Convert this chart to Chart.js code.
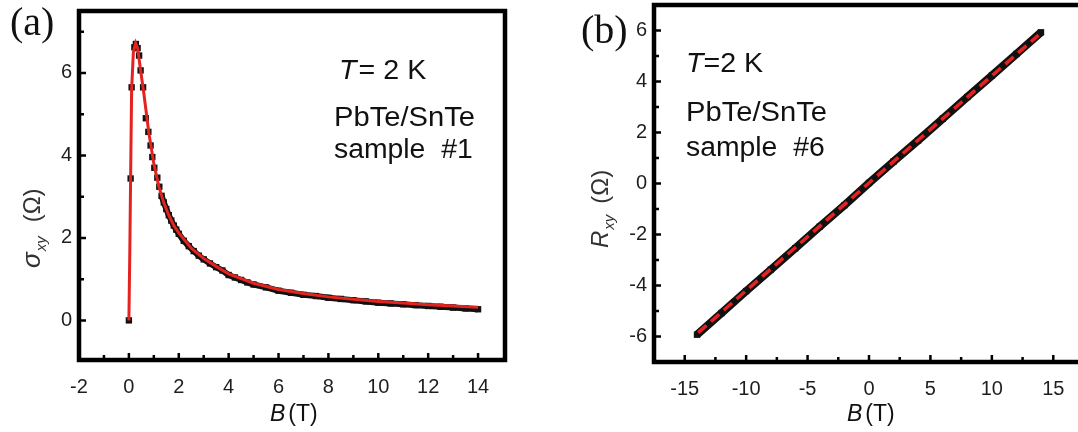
<!DOCTYPE html>
<html>
<head>
<meta charset="utf-8">
<script src="https://cdn.jsdelivr.net/npm/chart.js@4.4.1/dist/chart.umd.min.js"></script>
<style>
html, body { margin: 0; padding: 0; background: #fff; overflow: hidden; width: 1078px; height: 432px; }
canvas { position: absolute; top: 0; }
#chart-a { left: 0; }
#chart-b { left: 540px; }
</style>
</head>
<body>
<canvas id="chart-a" width="540" height="432"></canvas>
<canvas id="chart-b" width="560" height="432"></canvas>
<script>
/*
 * Panel (a): sample #1, Hall conductivity against field.  Black squares are
 * the measurement, the red line is the fit.
 */
const sampleOneB = [
	0, 0.07, 0.11, 0.22, 0.28, 0.35, 0.41, 0.47, 0.57, 0.68,
	0.78, 0.87, 0.94, 1.02, 1.14, 1.22, 1.31, 1.4, 1.5, 1.6,
	1.7, 1.8, 1.9, 2.0, 2.2, 2.4, 2.6, 2.8, 3.0, 3.25,
	3.5, 3.75, 4.0, 4.25, 4.5, 4.75, 5.0, 5.5, 6.0, 6.5,
	7.0, 7.5, 8.0, 8.5, 9.0, 9.5, 10.0, 10.5, 11.0, 11.5,
	12.0, 12.5, 13.0, 13.5, 14.0,
];
const sampleOneSigma = [
	0, 3.44, 5.65, 6.62, 6.7, 6.6, 6.42, 6.06, 5.65, 4.9,
	4.57, 4.24, 3.96, 3.7, 3.46, 3.24, 3.02, 2.86, 2.7, 2.55,
	2.42, 2.3, 2.2, 2.1, 1.93, 1.8, 1.68, 1.57, 1.48, 1.38,
	1.29, 1.21, 1.1, 1.04, 0.98, 0.92, 0.87, 0.8, 0.72, 0.67,
	0.62, 0.59, 0.55, 0.52, 0.49, 0.46, 0.43, 0.41, 0.39, 0.37,
	0.35, 0.33, 0.31, 0.29, 0.27,
];
const fitOneB = [
	0, 0.04, 0.07, 0.11, 0.18, 0.27, 0.35, 0.45, 0.6, 0.8,
	1.0, 1.2, 1.4, 1.6, 1.8, 2.0, 2.5, 3.0, 3.5, 4.0,
	5.0, 6.0, 7.0, 8.0, 9.0, 10.0, 11.0, 12.0, 13.0, 14.0,
];
const fitOneSigma = [
	0, 1.8, 3.5, 5.6, 6.5, 6.72, 6.6, 6.15, 5.5, 4.55,
	3.8, 3.25, 2.85, 2.55, 2.3, 2.12, 1.75, 1.5, 1.31, 1.13,
	0.9, 0.75, 0.65, 0.57, 0.51, 0.46, 0.42, 0.38, 0.35, 0.32,
];

/*
 * Panel (b): sample #6, Hall resistance against field.
 */
const sampleSixB = [
	-14, -12, -10, -8, -6, -4, -2, 0, 2, 4, 6, 8, 10, 12, 14,
];
const sampleSixR = [
	-5.93, -5.08, -4.22, -3.38, -2.54, -1.69, -0.85, 0.02,
	0.86, 1.69, 2.54, 3.39, 4.23, 5.08, 5.93,
];
const fitSixB = [-13.9, 0, 13.8];
const fitSixR = [-5.85, 0.02, 5.82];

/* Tick labels (major) and the unlabelled minor ticks. */

const xTicksA = [-2, 0, 2, 4, 6, 8, 10, 12, 14];
const xMinorA = [-1, 1, 3, 5, 7, 9, 11, 13];
const yTicksA = [0, 2, 4, 6];
const yMinorA = [1, 3, 5, 7];
const xTicksB = [-15, -10, -5, 0, 5, 10, 15];
const xMinorB = [-12.5, -7.5, -2.5, 2.5, 7.5, 12.5];
const yTicksB = [-6, -4, -2, 0, 2, 4, 6];
const yMinorB = [-5, -3, -1, 1, 3, 5];

const SANS = '"Liberation Sans", Arial, sans-serif';
const SERIF = '"Liberation Serif", "Times New Roman", serif';
const RED = '#e3231f';
const BLACK = '#111';

function points(xs, ys)
{
	return xs.map((x, i) => ({ x: x, y: ys[i] }));
}

/**
 * Draw a sequence of text runs (each with its own font and baseline shift)
 * starting at (x, y), optionally rotated to read bottom-to-top and
 * optionally stretched along the reading direction by "sx".
 */
function drawRuns(ctx, item)
{
	ctx.save();
	ctx.translate(item.x, item.y);
	if (item.rotate)
		ctx.rotate(-Math.PI / 2);
	if (item.sx)
		ctx.scale(item.sx, 1);
	ctx.fillStyle = item.color || '#111';
	ctx.textBaseline = 'alphabetic';
	ctx.textAlign = 'left';
	let x = 0;
	for (const run of item.runs) {
		ctx.font = run.f;
		ctx.fillText(run.t, x, run.dy || 0);
		x += ctx.measureText(run.t).width + (run.gap || 0);
	}
	ctx.restore();
}

/**
 * Frame, inward tick marks and free text of each panel.
 */
const decor = {
	id: 'decor',
	afterDatasetsDraw(chart, args, opts) {
		const ctx = chart.ctx;
		const area = chart.chartArea;
		const xs = chart.scales.x;
		const ys = chart.scales.y;
		ctx.save();
		ctx.strokeStyle = '#000';
		ctx.lineWidth = 2.5;
		ctx.beginPath();
		for (const v of opts.xMajor) {
			const px = xs.getPixelForValue(v);
			ctx.moveTo(px, area.bottom);
			ctx.lineTo(px, area.bottom - 7);
		}
		for (const v of opts.xMinor) {
			const px = xs.getPixelForValue(v);
			ctx.moveTo(px, area.bottom);
			ctx.lineTo(px, area.bottom - 5);
		}
		for (const v of opts.yMajor) {
			const py = ys.getPixelForValue(v);
			ctx.moveTo(area.left, py);
			ctx.lineTo(area.left + 7, py);
		}
		for (const v of opts.yMinor) {
			const py = ys.getPixelForValue(v);
			ctx.moveTo(area.left, py);
			ctx.lineTo(area.left + 5, py);
		}
		ctx.stroke();
		ctx.lineWidth = 4.5;
		ctx.strokeRect(area.left, area.top,
		    area.right - area.left, area.bottom - area.top);
		for (const item of opts.texts)
			drawRuns(ctx, item);
		ctx.restore();
	}
};

/**
 * Build one panel.  "ax" holds the axis ranges, tick lists and the fixed
 * geometry of the plotting area.  The scale paddings that Chart.js adds
 * for half-labels are zeroed so that the plot box lands where asked.
 */
function panel(id, datasets, ax, texts)
{
	const tickFont = { family: SANS, size: 20 };
	new Chart(document.getElementById(id), {
		type: 'scatter',
		data: { datasets: datasets },
		plugins: [decor],
		options: {
			responsive: false,
			animation: false,
			layout: { padding: ax.padding },
			plugins: {
				legend: { display: false },
				tooltip: { enabled: false },
				decor: {
					xMajor: ax.xTicks,
					xMinor: ax.xMinor,
					yMajor: ax.yTicks,
					yMinor: ax.yMinor,
					texts: texts,
				},
			},
			scales: {
				x: {
					type: 'linear',
					min: ax.xMin,
					max: ax.xMax,
					grid: { display: false, drawTicks: false },
					border: { display: false },
					afterBuildTicks: (s) => {
						s.ticks = ax.xTicks.map(v => ({ value: v }));
					},
					afterFit: (s) => {
						s.height = ax.xHeight;
						s.paddingLeft = 0;
						s.paddingRight = 0;
					},
					ticks: {
						autoSkip: false,
						maxRotation: 0,
						padding: 15,
						color: '#1e1e1e',
						font: tickFont,
					},
				},
				y: {
					type: 'linear',
					min: ax.yMin,
					max: ax.yMax,
					grid: { display: false, drawTicks: false },
					border: { display: false },
					afterBuildTicks: (s) => {
						s.ticks = ax.yTicks.map(v => ({ value: v }));
					},
					afterFit: (s) => {
						s.width = ax.yWidth;
						s.paddingTop = 0;
						s.paddingBottom = 0;
					},
					ticks: {
						autoSkip: false,
						padding: 7,
						color: '#1e1e1e',
						font: tickFont,
					},
				},
			},
		},
	});
}

window.addEventListener('load', () => {
	const big = '27px ' + SANS;
	const bigI = 'italic 27px ' + SANS;
	const lab = '23px ' + SANS;
	const labI = 'italic 23px ' + SANS;

	/* Panel (a). */

	panel('chart-a', [{
		label: 'fit',
		data: points(fitOneB, fitOneSigma),
		showLine: true,
		borderColor: RED,
		borderWidth: 3,
		pointRadius: 0,
		order: 0,
	}, {
		label: 'sample #1',
		data: points(sampleOneB, sampleOneSigma),
		showLine: true,
		borderWidth: 6,
		borderColor: BLACK,
		segment: {
			borderColor: (c) => c.p0.parsed.x < 1.25 ?
				'rgba(0,0,0,0)' : BLACK,
		},
		pointStyle: 'rect',
		pointRadius: 4.5,
		pointBackgroundColor: BLACK,
		pointBorderWidth: 0,
		order: 1,
	}], {
		xMin: -2, xMax: 15.08, yMin: -0.96, yMax: 7.5,
		xTicks: xTicksA, xMinor: xMinorA,
		yTicks: yTicksA, yMinor: yMinorA,
		yWidth: 79, xHeight: 72,
		padding: { top: 11, right: 35, left: 0, bottom: 0 },
	}, [
		{ x: 10, y: 35, runs: [{ t: '(a)', f: '40px ' + SERIF }] },
		{ x: 339, y: 79, sx: 1.06, runs: [
			{ t: 'T', f: bigI, gap: 2 },
			{ t: '= 2 K', f: big },
		] },
		{ x: 334, y: 126, sx: 1.08, runs: [{ t: 'PbTe/SnTe', f: big }] },
		{ x: 334, y: 158, sx: 1.05, runs: [{ t: 'sample  #1', f: big }] },
		{ x: 270, y: 421, runs: [
			{ t: 'B', f: labI, gap: 3 },
			{ t: '(T)', f: lab },
		] },
		{ x: 40, y: 268, rotate: true, color: '#333', runs: [
			{ t: 'σ', f: 'italic 26px ' + SANS, gap: 1 },
			{ t: 'xy', f: 'italic 15px ' + SANS, dy: 6, gap: 14 },
			{ t: '(Ω)', f: '24px ' + SANS },
		] },
	]);

	/* Panel (b). */

	panel('chart-b', [{
		label: 'fit',
		data: points(fitSixB, fitSixR),
		showLine: true,
		borderColor: RED,
		borderWidth: 3.5,
		borderDash: [11, 6],
		pointRadius: 0,
		order: 0,
	}, {
		label: 'sample #6',
		data: points(sampleSixB, sampleSixR),
		showLine: true,
		borderWidth: 8,
		borderColor: BLACK,
		pointStyle: 'rect',
		pointRadius: 4.5,
		pointBackgroundColor: BLACK,
		pointBorderWidth: 0,
		order: 1,
	}], {
		xMin: -17.5, xMax: 17.5, yMin: -7, yMax: 7,
		xTicks: xTicksB, xMinor: xMinorB,
		yTicks: yTicksB, yMinor: yMinorB,
		yWidth: 114, xHeight: 70,
		padding: { top: 5, right: 16, left: 0, bottom: 0 },
	}, [
		{ x: 41, y: 43, runs: [{ t: '(b)', f: '40px ' + SERIF }] },
		{ x: 146, y: 72, sx: 1.06, runs: [
			{ t: 'T', f: bigI, gap: 0 },
			{ t: '=2 K', f: big },
		] },
		{ x: 146, y: 121, sx: 1.08, runs: [{ t: 'PbTe/SnTe', f: big }] },
		{ x: 146, y: 156, sx: 1.05, runs: [{ t: 'sample  #6', f: big }] },
		{ x: 307, y: 421, runs: [
			{ t: 'B', f: labI, gap: 3 },
			{ t: '(T)', f: lab },
		] },
		{ x: 68, y: 248, rotate: true, color: '#333', runs: [
			{ t: 'R', f: 'italic 24px ' + SANS, gap: 1 },
			{ t: 'xy', f: 'italic 15px ' + SANS, dy: 6, gap: 11 },
			{ t: '(Ω)', f: '24px ' + SANS },
		] },
	]);
});
</script>
</body>
</html>
